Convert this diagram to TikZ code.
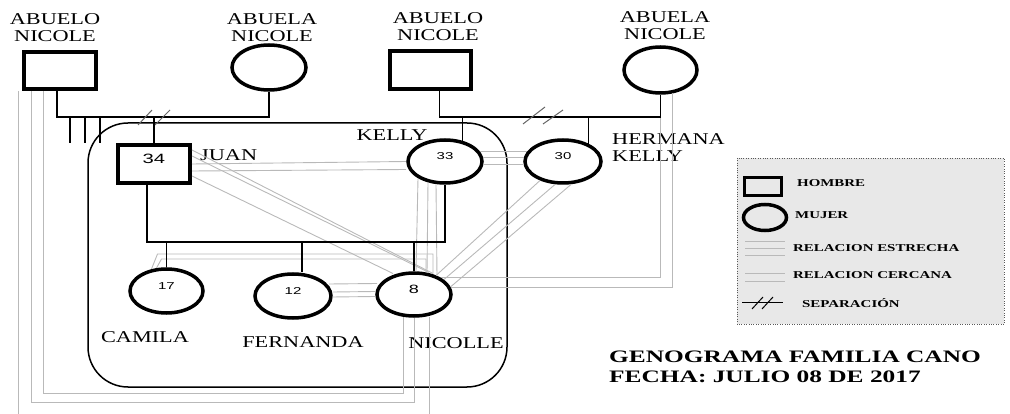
\documentclass[tikz,border=0pt]{standalone}
\usepackage{fontspec}
\setmainfont{Liberation Serif}
\newfontfamily\namefont[FakeStretch=1.35]{Liberation Serif}
\newfontfamily\numfont[FakeStretch=1.5]{Liberation Sans}
\newfontfamily\legfont[FakeStretch=1.42]{Liberation Serif}
\newfontfamily\titlefont[FakeStretch=1.45]{Liberation Serif}
\usetikzlibrary{shapes.geometric}

\tikzset{
  hombre/.style={draw, rectangle, line width=3.5pt, inner sep=0pt, text depth=10pt,
    font=\numfont\fontsize{10}{10}\selectfont},
  mujer/.style={draw, ellipse, line width=3.5pt, inner sep=0pt, text depth=10pt,
    font=\numfont\fontsize{10}{10}\selectfont},
  familia/.style={line width=1.5pt},
  rel/.style={draw=gray!55, line width=0.9pt},
  corte/.style={draw=gray!80!black, line width=1pt},
  nombre/.style={font=\namefont\fontsize{16.5}{17}\selectfont, inner sep=0pt, align=center},
  leyenda/.style={font=\legfont\bfseries\fontsize{10.5}{12}\selectfont, inner sep=0pt, anchor=west}
}

\begin{document}
\begin{tikzpicture}[x=1pt, y=-1pt]
    \useasboundingbox (0,0) rectangle (1010,414);

    % personas
    \node[hombre, minimum width=72, minimum height=37] (abueloA) at (60,70.5) {};
    \node[mujer, minimum width=74, minimum height=45] (abuelaA) at (269,67.5) {};
    \node[hombre, minimum width=81, minimum height=38] (abueloB) at (430.5,70) {};
    \node[mujer, minimum width=73, minimum height=46] (abuelaB) at (660.5,70) {};
    \node[hombre, minimum width=72, minimum height=38, font=\numfont\fontsize{13.5}{13.5}\selectfont] (juan) at (154,164) {34};
    \node[mujer, minimum width=74, minimum height=43] (kelly) at (445,161.5) {33};
    \node[mujer, minimum width=76, minimum height=43] (hermana) at (563,161.5) {30};
    \node[mujer, minimum width=73, minimum height=44] (camila) at (166.5,291) {17};
    \node[mujer, minimum width=76, minimum height=44] (fernanda) at (293,296) {12};
    \node[mujer, minimum width=74, minimum height=43, font=\numfont\fontsize{12}{12}\selectfont] (nicolle) at (414,294.5) {8};

    % nombres
    \node[nombre] (txtAbueloA) at (55,27.5) {ABUELO\\NICOLE};
    \node[nombre] (txtAbuelaA) at (272,27.5) {ABUELA\\NICOLE};
    \node[nombre] (txtAbueloB) at (438,27) {ABUELO\\NICOLE};
    \node[nombre] (txtAbuelaB) at (665,26) {ABUELA\\NICOLE};
    \node[nombre, anchor=west] (txtJuan) at (200,155) {JUAN};
    \node[nombre] (txtKelly) at (392,135) {KELLY};
    \node[nombre, anchor=west, align=left] (txtHermana) at (612,147.5) {HERMANA\\KELLY};
    \node[nombre] (txtCamila) at (145,337) {CAMILA};
    \node[nombre] (txtFernanda) at (303,342) {FERNANDA};
    \node[nombre] (txtNicolle) at (456,343) {NICOLLE};

    \draw[line width=1.5pt, rounded corners=40pt] (88,123) rectangle (507,387);

    % relaciones
    \draw[rel] ([shift={(38,0)}]juan.center) -- ([shift={(-39,0)}]kelly.center);
    \draw[rel] ([shift={(38,7)}]juan.center) -- ([shift={(-39,8)}]kelly.center);
    \draw[rel] ([shift={(38,-14)}]juan.center) -- ([shift={(19,-21)}]nicolle.center);
    \draw[rel] ([shift={(38,-8)}]juan.center) -- ([shift={(15,-22)}]nicolle.center);
    \draw[rel] ([shift={(38,12)}]juan.center) -- ([shift={(-21,-21)}]nicolle.center);

    \draw[rel] ([shift={(35,-10)}]kelly.center) -- ([shift={(-36,-10)}]hermana.center);
    \draw[rel] ([shift={(38,-4)}]kelly.center) -- ([shift={(-39,-4)}]hermana.center);
    \draw[rel] ([shift={(39,3)}]kelly.center) -- ([shift={(-40,3)}]hermana.center);
    \draw[rel] ([shift={(-27,17)}]kelly.center) -- ([shift={(2,-23)}]nicolle.center);
    \draw[rel] ([shift={(-17,21)}]kelly.center) -- ([shift={(13,-22)}]nicolle.center);
    \draw[rel] ([shift={(-9,23)}]kelly.center) -- ([shift={(23,-19)}]nicolle.center);

    \draw[rel] ([shift={(-23,19)}]hermana.center) -- ([shift={(22,-19)}]nicolle.center);
    \draw[rel] ([shift={(-8,23)}]hermana.center) -- ([shift={(30,-15)}]nicolle.center);
    \draw[rel] ([shift={(8,23)}]hermana.center) -- ([shift={(37,-8)}]nicolle.center);

    \draw[rel] ([shift={(27,-17)}]nicolle.center) -| (abuelaB.south);
    \draw[rel] ([shift={(37,-7)}]nicolle.center) -| ([shift={(12,23)}]abuelaB.center);

    \draw[rel] ([shift={(-17,21)}]abueloA.center) |- ([shift={(-11,99)}]nicolle.center) -- ([shift={(-11,22)}]nicolle.center);
    \draw[rel] ([shift={(-29,21)}]abueloA.center) |- ([shift={(0,108)}]nicolle.center) -- (nicolle.south);
    \draw[rel] ([shift={(-42,21)}]abueloA.center) -- ++(0,322);
    \draw[rel] ([shift={(15,22)}]nicolle.center) -- ++(0,97);

    \draw[rel] ([shift={(-15,-22)}]camila.center) -- ([shift={(-9,-37)}]camila.center) -| ([shift={(19,-21)}]nicolle.center);
    \draw[rel] ([shift={(-10,-23)}]camila.center) -- ([shift={(-5,-32)}]camila.center) -| ([shift={(12,-22)}]nicolle.center);

    \draw[rel] ([shift={(36,-12)}]fernanda.center) -- ([shift={(-37,-11)}]nicolle.center);
    \draw[rel] ([shift={(40,-4)}]fernanda.center) -- ([shift={(-39,-3)}]nicolle.center);
    \draw[rel] ([shift={(39,1)}]fernanda.center) -- ([shift={(-39,2)}]nicolle.center);

    % lineas de familia
    \coordinate (uno) at (0,117);
    \coordinate (hijos) at (0,242);
    \draw[familia] ([xshift=-3pt]abueloA.south) |- (abuelaA.south |- uno) -- (abuelaA.south);
    \foreach \x in {70,85,100}
        \draw[familia] (\x,117) -- (\x,143);
    \draw[familia] (juan.north |- uno) -- (juan.north);
    \draw[corte] (138,125) -- (152,110) (155,125) -- (170,110);

    \draw[familia] ([xshift=9pt]abueloB.south) |- (abuelaB.south |- uno) -- (abuelaB.south);
    \draw[familia] (kelly.50 |- uno) -- (kelly.50);
    \draw[familia] (hermana.35 |- uno) -- (hermana.35);
    \draw[corte] (523,124) -- (545,107) (543,124) -- (563,110);

    \coordinate (juanBajo) at ([xshift=-7pt]juan.south);
    \coordinate (fernandaArriba) at ([xshift=9pt]fernanda.north);
    \draw[familia] (juanBajo) |- (kelly.south |- hijos) -- (kelly.south);
    \draw[familia] (camila.north |- hijos) -- (camila.north);
    \draw[familia] (fernandaArriba |- hijos) -- (fernandaArriba);
    \draw[familia] (nicolle.north |- hijos) -- (nicolle.north);

    % leyenda
    \draw[dotted, draw=gray!70!black, fill=gray!18] (737,158) rectangle (1004,324);
    \node[hombre, minimum width=37, minimum height=18] (leyHombre) at (763,186.5) {};
    \node[mujer, minimum width=43, minimum height=26] (leyMujer) at (765,217.5) {};
    \foreach \y in {241,248,255}
        \draw[rel] (745,\y) -- (785,\y);
    \foreach \y in {273,281}
        \draw[rel] (745,\y) -- (785,\y);
    \draw[line width=1pt] (742,303) -- (783,303);
    \draw[corte, draw=black] (752,309) -- (763,297) (762,309) -- (773,297);
    \node[leyenda] (txtHombre) at (797,183) {HOMBRE};
    \node[leyenda] (txtMujer) at (795,215) {MUJER};
    \node[leyenda] (txtEstrecha) at (793,248) {RELACION ESTRECHA};
    \node[leyenda] (txtCercana) at (793,275) {RELACION CERCANA};
    \node[leyenda] (txtSeparacion) at (802,303) {SEPARACIÓN};

    \node[font=\titlefont\bfseries\fontsize{17.5}{20}\selectfont, anchor=west, align=left, inner sep=0pt] (titulo) at (609,367) {GENOGRAMA FAMILIA CANO\\FECHA: JULIO 08 DE 2017};

\end{tikzpicture}
\end{document}
